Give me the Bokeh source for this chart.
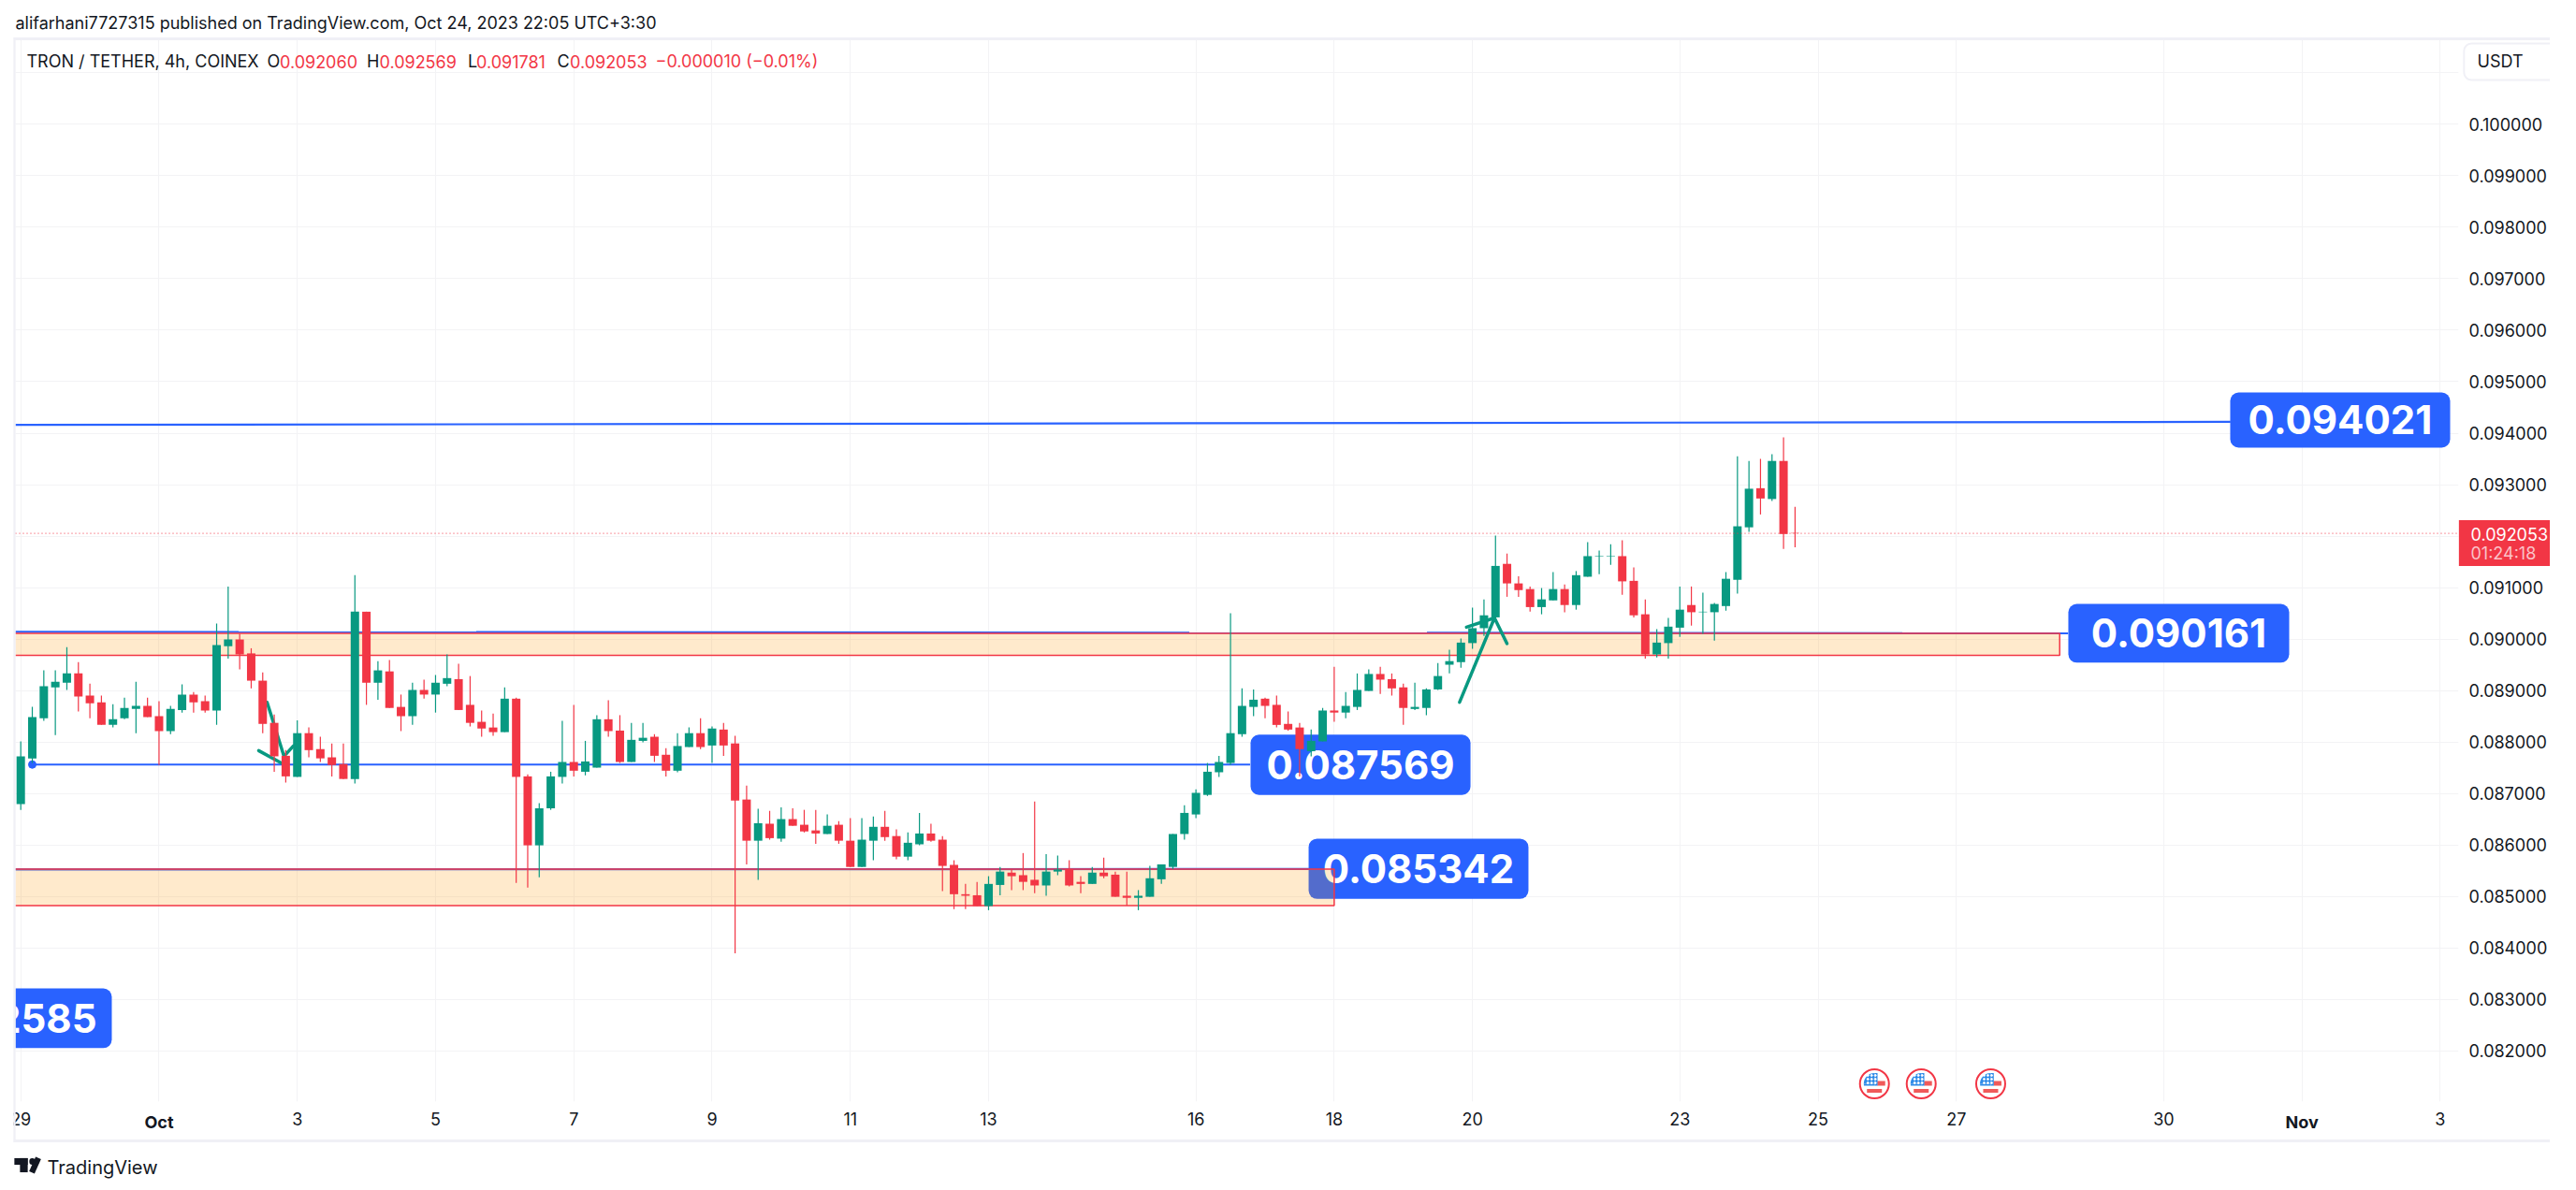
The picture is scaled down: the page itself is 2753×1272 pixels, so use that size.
from bokeh.plotting import figure, ColumnDataSource
from bokeh.embed import file_html
from bokeh.resources import INLINE
from bokeh.core.properties import value
from bokeh.models import (Range1d, FixedTicker, PrintfTickFormatter, Label, Span)

# ---- candles, in thousandths of a USDT (one row per ten 4h bars) ----
candle_dirs = "".join("GGGGG RRR GGG RR GG RR GG RRRRR G RRRR G R G RR G R GG RRRR G RR GGG R GG RR GG RR GG R G RRR G R G RRR G RR GG RR GG RRRRR GG RRR GG RR G RRR GGGGGGGGGGG RRRR GG R GGG RRR GGGGGGGG RRR GG R GGGG RRR GGG R GGGGG R G RR".split())
highs_k = [
 88.01,88.68,89.39,89.39,89.84,89.55,89.13,88.90,88.73,88.86,
 89.17,88.86,88.79,88.70,89.12,88.97,88.90,90.30,91.02,90.10,
 89.82,89.35,88.53,87.84,88.42,88.28,88.10,87.97,87.97,91.24,
 90.53,89.57,89.59,88.92,89.15,89.21,89.30,89.70,89.52,89.28,
 88.61,88.55,89.06,88.86,87.37,86.81,87.42,88.41,88.72,88.02,
 88.52,88.81,88.52,88.37,88.37,88.15,87.88,88.17,88.28,88.46,
 88.30,88.37,88.12,87.15,86.70,86.66,86.73,86.71,86.68,86.68,
 86.59,86.46,86.52,86.52,86.55,86.66,86.30,86.24,86.62,86.41,
 86.17,85.70,85.24,85.28,85.39,85.57,85.53,85.84,86.84,85.82,
 85.79,85.70,85.39,85.57,85.75,85.48,85.48,85.12,85.59,85.62,
 86.21,86.77,87.08,87.59,87.73,90.50,89.04,89.02,88.86,88.90,
 88.59,88.37,88.24,88.66,89.46,88.97,89.33,89.41,89.46,89.33,
 89.13,89.15,89.04,89.53,89.79,90.01,90.61,90.77,92.01,91.66,
 91.22,91.02,90.99,91.30,91.06,91.32,91.88,91.72,91.84,91.92,
 91.39,90.77,90.19,90.41,91.02,91.02,90.90,90.70,91.30,93.55,
 93.46,93.50,93.59,93.92,92.569]
body_tops_k = [
 87.72,88.48,89.08,89.17,89.33,89.33,88.90,88.77,88.44,88.66,
 88.70,88.70,88.50,88.64,88.92,88.92,88.79,89.88,89.99,89.99,
 89.72,89.19,88.37,87.73,88.17,88.17,87.86,87.70,87.57,90.53,
 90.53,89.39,89.37,88.68,89.01,89.01,89.15,89.24,89.22,88.72,
 88.39,88.28,88.84,88.84,87.33,86.71,87.33,87.61,87.61,87.62,
 88.44,88.44,88.22,88.04,88.08,88.10,87.75,87.92,88.17,88.17,
 88.26,88.24,87.97,86.88,86.42,86.41,86.50,86.50,86.39,86.28,
 86.37,86.39,86.08,86.10,86.35,86.35,86.17,86.04,86.22,86.22,
 86.10,85.61,85.04,85.02,85.24,85.48,85.46,85.41,85.32,85.48,
 85.52,85.53,85.28,85.46,85.46,85.42,85.01,85.01,85.35,85.62,
 86.21,86.62,87.01,87.42,87.61,88.17,88.70,88.82,88.84,88.72,
 88.35,88.28,88.02,88.61,88.61,88.70,89.01,89.32,89.32,89.22,
 89.06,88.68,89.02,89.28,89.57,89.93,90.21,90.46,91.42,91.46,
 91.08,90.97,90.77,90.97,90.97,91.24,91.61,91.61,91.61,91.61,
 91.13,90.48,89.93,90.24,90.57,90.66,90.53,90.68,91.17,92.19,
 92.92,92.93,93.46,93.46,92.060]
body_bottoms_k = [
 86.79,87.68,88.46,89.06,89.15,88.88,88.75,88.33,88.33,88.46,
 88.64,88.48,88.21,88.21,88.62,88.77,88.61,88.61,89.86,89.70,
 89.19,88.35,87.72,87.33,87.32,87.84,87.68,87.55,87.28,87.28,
 89.15,89.15,88.66,88.50,88.50,88.92,88.92,89.13,88.62,88.37,
 88.26,88.19,88.19,87.32,85.99,85.99,86.71,87.32,87.44,87.42,
 87.50,88.21,87.61,87.61,88.02,87.73,87.44,87.44,87.90,87.90,
 87.93,87.93,86.86,86.08,86.08,86.13,86.12,86.37,86.26,86.22,
 86.21,86.08,85.57,85.57,86.08,86.15,85.77,85.77,86.01,86.08,
 85.59,85.04,85.01,84.81,84.81,85.22,85.39,85.28,85.21,85.21,
 85.48,85.21,85.24,85.24,85.39,84.99,84.97,84.97,84.99,85.33,
 85.57,86.21,86.59,86.97,87.41,87.59,88.15,88.68,88.70,88.33,
 88.24,87.86,87.82,88.01,88.57,88.57,88.68,88.99,89.21,89.04,
 88.66,88.64,88.66,89.02,89.50,89.55,89.92,90.21,90.42,91.08,
 90.95,90.62,90.62,90.75,90.66,90.66,91.21,91.60,91.60,91.12,
 90.46,89.70,89.70,89.92,90.22,90.52,90.52,90.52,90.64,91.15,
 92.17,92.73,92.72,92.04,92.053]
lows_k = [
 86.68,87.59,88.41,88.13,89.01,88.59,88.46,88.33,88.28,88.44,
 88.17,88.48,87.55,88.15,88.57,88.57,88.57,88.33,89.62,89.41,
 89.04,88.17,87.42,87.21,87.32,87.70,87.61,87.33,87.28,87.19,
 88.72,88.82,88.66,88.21,88.33,88.84,88.57,89.08,88.62,88.30,
 88.10,88.12,88.19,85.26,85.17,85.37,86.68,87.19,87.33,87.35,
 87.50,88.10,87.59,87.61,87.99,87.61,87.33,87.41,87.90,87.86,
 87.59,87.73,83.89,85.62,85.32,86.10,86.06,86.37,86.24,86.02,
 86.21,86.02,85.57,85.57,85.70,86.08,85.72,85.70,85.99,86.06,
 85.10,84.75,84.75,84.81,84.73,85.02,85.12,85.12,85.06,85.01,
 85.41,85.19,85.06,85.24,85.35,84.99,84.82,84.73,84.99,85.24,
 85.53,86.10,86.52,86.95,87.32,87.55,88.10,88.50,88.46,88.28,
 88.22,87.33,87.72,88.01,88.39,88.46,88.62,88.99,88.93,88.90,
 88.33,88.62,88.52,89.01,89.33,89.44,89.81,90.06,90.42,90.82,
 90.82,90.53,90.48,90.75,90.52,90.57,91.21,91.26,91.44,90.86,
 90.42,89.62,89.64,89.62,90.04,90.26,90.10,89.97,90.55,90.88,
 92.08,92.42,92.68,91.75,91.781]

# ---- axes ----
price_ticks = [0.082,0.083,0.084,0.085,0.086,0.087,0.088,0.089,0.090,0.091,0.092,0.093,0.094,0.095,0.096,0.097,0.098,0.099,0.100]
price_grid = price_ticks + [0.101]
date_ticks = [0,12,24,36,48,60,72,84,102,114,126,144,156,168,186,198,210]
date_labels = ["29","","3","5","7","9","11","13","16","18","20","23","25","27","30","","3"]
bold_dates = {12:"Oct", 198:"Nov"}

# ---- drawings ----
usd_events = [160.89,164.95,170.98]
last_price = 0.092053
zones = dict(left=[-3,-3], right=[176.97,114.0], top=[0.09011,0.08553], bottom=[0.08968,0.08482])
level_lines = [([-3,191.8],[0.09416,0.09422]), ([-3,177.7],[0.09014,0.09011]),
               ([1,106.7],[0.08756,0.08756]), ([-3,111.8],[0.08552,0.08553])]
callouts = dict(left=[191.77,177.72,106.74,111.78,-11.18], right=[210.86,196.89,125.83,130.86,7.90],
                top=[0.09479,0.09068,0.08814,0.08612,0.08321], bottom=[0.09372,0.08954,0.08697,0.08495,0.08205])
callout_text = ["0.094021","0.090161","0.087569","0.085342","0.082585"]
brush = [([20.65,22.6],[0.08783,0.08759]), ([21.38,22.85,23.66],[0.08877,0.08772,0.08792]),
         ([124.88,127.91,129.0],[0.08877,0.09041,0.08991]), ([125.48,127.91],[0.09023,0.09041])]

W, H = 2752, 1271
GREEN, RED, BLUE, INK, GRID, EDGE = "#089981", "#F23645", "#2962FF", "#131722", "#F3F3F5", "#F0F0F6"
FONT = "Inter"

p = figure(width=W, height=H, frame_width=2611, frame_height=1135,
           output_backend="svg", toolbar_location=None, tools="",
           x_range=Range1d(-0.463, 211.59), y_range=Range1d(0.08101, 0.101645),
           y_axis_location="right",
           min_border_left=16, min_border_right=0, min_border_top=42, min_border_bottom=0)
p.outline_line_color = None
p.background_fill_color = "white"

xa, ya = p.xaxis[0], p.yaxis[0]
xa.ticker = FixedTicker(ticks=date_ticks)
xa.major_label_overrides = dict(zip(date_ticks, date_labels))
ya.ticker = FixedTicker(ticks=price_ticks)
ya.formatter = PrintfTickFormatter(format="%.6f")
for a in (xa, ya):
    a.axis_line_color = None
    a.major_tick_line_color = None
    a.minor_tick_line_color = None
    a.major_label_text_font = FONT
    a.major_label_text_font_size = "18px"
    a.major_label_text_color = INK
    a.major_label_standoff = 5
p.xgrid[0].ticker = FixedTicker(ticks=date_ticks)
p.ygrid[0].ticker = FixedTicker(ticks=price_grid)
for g in (p.xgrid[0], p.ygrid[0]):
    g.grid_line_color = GRID
    g.grid_line_width = 1

# callouts lie under everything else
p.quad(left=callouts["left"], right=callouts["right"], top=callouts["top"], bottom=callouts["bottom"],
       fill_color=BLUE, line_color=None, border_radius=9)
p.text(x=[(a+b)/2 for a,b in zip(callouts["left"],callouts["right"])],
       y=[(a+b)/2 for a,b in zip(callouts["top"],callouts["bottom"])], text=callout_text,
       text_color="white", text_font=value(FONT), text_font_style="bold", text_font_size="42px",
       text_align="center", text_baseline="middle")

for xs, ys in level_lines:
    p.line(xs, ys, line_color=BLUE, line_width=2.2)
p.quad(left=zones["left"], right=zones["right"], top=zones["top"], bottom=zones["bottom"],
       fill_color="#FF9800", fill_alpha=0.2, line_color=RED, line_width=1.5)
p.scatter([level_lines[2][0][0]], [level_lines[2][1][0]], size=8, color=BLUE)
for xs, ys in brush:
    p.line(xs, ys, line_color=GREEN, line_width=3.5, line_cap="round", line_join="round")

p.add_layout(Span(location=last_price, dimension="width", line_color=RED, line_width=1, line_dash="1 3"))

# candles
n = len(highs_k)
src = ColumnDataSource(dict(
    x=list(range(n)),
    h=[v/1000 for v in highs_k], l=[v/1000 for v in lows_k],
    t=[v/1000 for v in body_tops_k], b=[v/1000 for v in body_bottoms_k],
    c=[GREEN if d == "G" else RED for d in candle_dirs]))
p.segment("x", "h", "x", "l", source=src, line_color="c", line_width=1.2)
p.vbar("x", width=0.73, top="t", bottom="b", source=src, fill_color="c", line_color=None)

# economic-event flags (a US flag inside a red ring)
ev_y = 0.081355
step = 1/12.313      # one screen pixel along x, in bars
rise = 1/55000       # one screen pixel along y, in price
FLAG_BLUE, FLAG_RED = "#2E8BE8", "#F05A5A"
p.scatter(usd_events, [ev_y]*3, size=31, fill_color="white", line_color=RED, line_width=2)
for e in usd_events:
    p.quad(left=[e-8*step], right=[e+8*step], top=[ev_y-5.5*rise], bottom=[ev_y-9.5*rise], fill_color=FLAG_RED, line_color=None)
    p.quad(left=[e+3*step], right=[e+11.5*step], top=[ev_y+3*rise], bottom=[ev_y-2*rise], fill_color=FLAG_RED, line_color=None)
    p.wedge([e], [ev_y], radius=11.5, radius_units="screen", start_angle=1.5708, end_angle=3.1416, fill_color=FLAG_BLUE, line_color=None)
    p.quad(left=[e], right=[e+3.3*step], top=[ev_y+11.5*rise], bottom=[ev_y-2*rise], fill_color=FLAG_BLUE, line_color=None)
    p.quad(left=[e-11.3*step], right=[e], top=[ev_y], bottom=[ev_y-2*rise], fill_color=FLAG_BLUE, line_color=None)
    p.scatter([e-(-1+4*i)*step for i in range(3) for j in range(3)],
              [ev_y+(1+4*j)*rise for i in range(3) for j in range(3)], size=2, color="white")

# page-level furniture (page pixels, origin at the top-left); kept in a side panel so it is not clipped to the frame
def label(px, py, text, size=18, color=INK, style="normal", align="left"):
    p.add_layout(Label(x=px, y=py, x_units="canvas", y_units="canvas", text=text, text_color=color,
                       text_font=FONT, text_font_size=f"{size}px", text_font_style=style,
                       text_align=align, text_baseline="middle"), "below")

def box(l, t, r, b, fill=None, line=None, lw=0, radius=0, angle=0):
    w, h = int(round(r-l)), int(round(b-t))
    p.add_layout(Label(x=(l+r)/2, y=(t+b)/2, x_units="canvas", y_units="canvas", text=" ", text_font_size="1px",
                       text_align="center", text_baseline="middle", padding=(w//2, h//2), angle=angle,
                       background_fill_color=fill, border_line_color=line, border_line_width=lw,
                       border_radius=radius), "below")

box(0, 1188, 14, 1212, fill="white")
box(14, 40, 2739, 42, fill=EDGE)
box(14, 1218, 2739, 1220, fill=EDGE)
box(14, 40, 16, 1220, fill=EDGE)
box(2737, 40, 2739, 1220, fill=EDGE)
box(2627, 556, 2732, 604, fill=RED)
label(2640, 570, "0.092053", color="white")
label(2640, 591, "01:24:18", color="#FBC2C8")
box(2633, 46, 2731, 85, fill="white", line=EDGE, lw=2, radius=8)
label(2647, 65, "USDT")

label(16, 24, "alifarhani7727315 published on TradingView.com, Oct 24, 2023 22:05 UTC+3:30")
label(28, 65, "TRON / TETHER, 4h, COINEX")
for x_, t_ in [(285,"O"),(391.5,"H"),(499.5,"L"),(595,"C")]:
    label(x_, 65, t_)
for x_, t_ in [(298.5,"0.092060"),(405,"0.092569"),(508.5,"0.091781"),(608.5,"0.092053"),(700,"\u22120.000010 (\u22120.01%)")]:
    label(x_, 65, t_, color=RED)

for tick, text in bold_dates.items():
    label(21.7+12.313*tick, 1199, text, style="bold", align="center")

label(50, 1247, "TradingView", size=20)
box(15, 1238, 29, 1244, fill=INK)
box(21, 1238, 29, 1252, fill=INK)
box(31, 1238, 37, 1244, fill=INK, radius=3)
box(34, 1237, 40, 1253, fill=INK, angle=-0.42)

open("out.html", "w").write(file_html(p, INLINE))
